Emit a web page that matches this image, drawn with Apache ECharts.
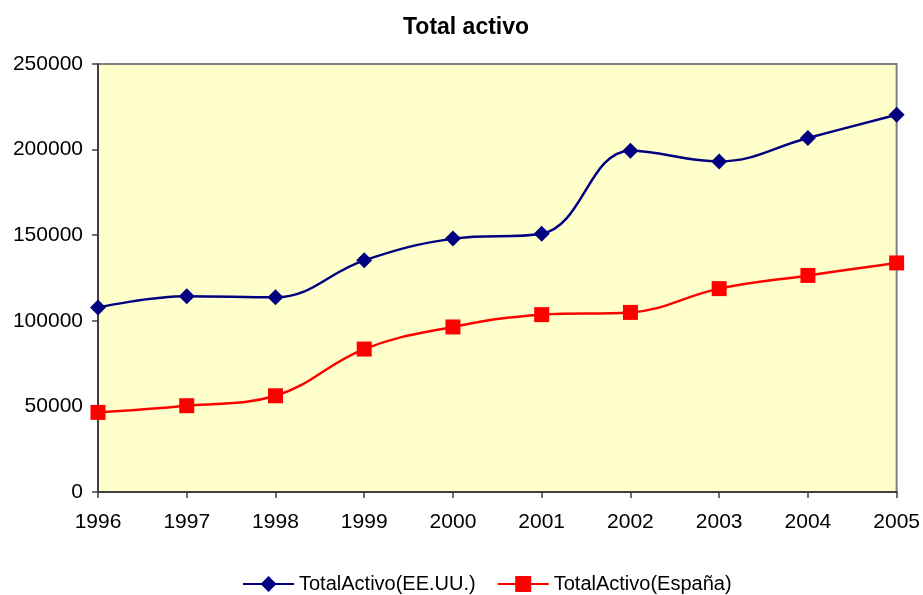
<!DOCTYPE html>
<html>
<head>
<meta charset="utf-8">
<script src="https://cdn.jsdelivr.net/npm/echarts@6/dist/echarts.min.js"></script>
<style>
html,body{margin:0;padding:0;background:#fff;}
#chart{width:923px;height:595px;}
</style>
</head>
<body>
<div id="chart"></div>
<script>
const categories = ['1996','1997','1998','1999','2000','2001','2002','2003','2004','2005'];
const eeuu = [107800, 114300, 113700, 135300, 148000, 150900, 199400, 193100, 206800, 220400];
const espana = [46500, 50400, 56200, 83500, 96400, 103600, 104900, 118800, 126500, 133800];
const seriesNames = ['TotalActivo(EE.UU.)', 'TotalActivo(España)'];
const titleText = 'Total activo';

const font = '"Liberation Sans", Arial, sans-serif';
const chart = echarts.init(document.getElementById('chart'), null, {renderer: 'canvas'});
chart.setOption({
  animation: false,
  backgroundColor: '#ffffff',
  title: {
    text: titleText,
    left: 398,
    top: 11,
    textStyle: {fontFamily: font, fontSize: 23, fontWeight: 'bold', color: '#000'}
  },
  legend: {
    top: 569,
    left: 237,
    itemWidth: 51,
    itemHeight: 20,
    itemGap: 21,
    textStyle: {fontFamily: font, fontSize: 20, color: '#000'},
    data: seriesNames
  },
  grid: {
    left: 98, right: 25, top: 64, bottom: 103,
    show: true,
    backgroundColor: '#FFFFCC',
    borderColor: '#808080',
    borderWidth: 2
  },
  xAxis: {
    type: 'category',
    data: categories,
    boundaryGap: false,
    axisLine: {lineStyle: {color: '#404040', width: 2}},
    axisTick: {show: true, length: 6, lineStyle: {color: '#404040', width: 1.5}},
    axisLabel: {fontFamily: font, fontSize: 21, color: '#000', margin: 20},
    splitLine: {show: false}
  },
  yAxis: {
    type: 'value',
    min: 0, max: 250000, interval: 50000,
    axisLine: {show: true, lineStyle: {color: '#404040', width: 2}},
    axisTick: {show: true, length: 6, lineStyle: {color: '#404040', width: 1.5}},
    axisLabel: {fontFamily: font, fontSize: 21, color: '#000', margin: 15, formatter: v => String(v)},
    splitLine: {show: false}
  },
  series: [
    {
      name: seriesNames[0],
      type: 'line',
      data: eeuu,
      smooth: 0.4,
      symbol: 'diamond',
      symbolSize: 16,
      color: '#000080',
      lineStyle: {width: 2.5, color: '#000080'},
      itemStyle: {color: '#000080'}
    },
    {
      name: seriesNames[1],
      type: 'line',
      data: espana,
      smooth: 0.4,
      symbol: 'rect',
      symbolSize: 15,
      color: '#FF0000',
      lineStyle: {width: 2.5, color: '#FF0000'},
      itemStyle: {color: '#FF0000'}
    }
  ]
});
</script>
</body>
</html>
